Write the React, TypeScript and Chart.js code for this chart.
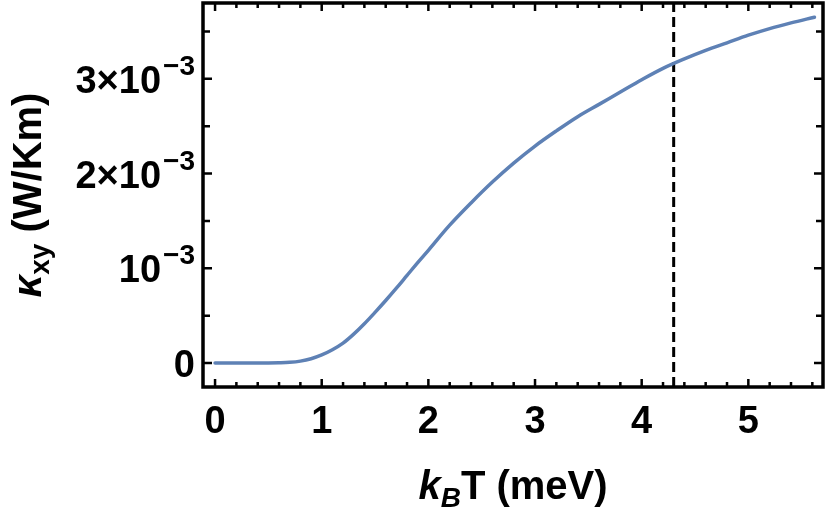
import React, { useEffect, useRef } from "react";
import { Chart, registerables } from "chart.js";

Chart.register(...registerables);

// k_B T in meV
const temperatures = [
  0, 0.2, 0.4, 0.5, 0.6, 0.7, 0.8, 0.9, 1.0, 1.1, 1.2, 1.3, 1.4, 1.5, 1.6, 1.7,
  1.8, 1.9, 2.0, 2.2, 2.4, 2.6, 2.8, 3.0, 3.2, 3.4, 3.6, 3.8, 4.0, 4.2, 4.4,
  4.6, 4.8, 5.0, 5.2, 5.4, 5.62,
];
// kappa_xy in W/Km
const kappaXY = [
  0, 0, 0, 0, 0.002e-3, 0.007e-3, 0.02e-3, 0.045e-3, 0.085e-3, 0.14e-3,
  0.21e-3, 0.305e-3, 0.415e-3, 0.535e-3, 0.66e-3, 0.79e-3, 0.925e-3, 1.06e-3,
  1.19e-3, 1.455e-3, 1.69e-3, 1.91e-3, 2.11e-3, 2.29e-3, 2.45e-3, 2.6e-3,
  2.73e-3, 2.86e-3, 2.99e-3, 3.11e-3, 3.21e-3, 3.3e-3, 3.38e-3, 3.46e-3,
  3.53e-3, 3.59e-3, 3.65e-3,
];
const markerT = 4.3;

const xMin = -0.113;
const xMax = 5.7;
const yMin = -0.253e-3;
const yMax = 3.8e-3;

const xTickValues = [0, 1, 2, 3, 4, 5];
const xTickLabels = ["0", "1", "2", "3", "4", "5"];
const xMinorStep = 0.2;
const yTickValues = [0, 1e-3, 2e-3, 3e-3];
const yTickBase = ["0", "10", "2×10", "3×10"];
const yTickSup = ["", "−3", "−3", "−3"];
const yMinorStep = 0.5e-3;

const FONT = "'Liberation Sans', Arial, Helvetica, sans-serif";

const framePlugin = {
  id: "mmaFrame",
  afterDraw(chart: any) {
    const ctx: CanvasRenderingContext2D = chart.ctx;
    const { left, right, top, bottom } = chart.chartArea;
    const xs = chart.scales.x;
    const ys = chart.scales.y;
    ctx.save();
    ctx.strokeStyle = "#000";
    ctx.fillStyle = "#000";

    // ticks
    ctx.lineWidth = 2.5;
    const nX = Math.round((xMax - 0) / xMinorStep);
    for (let i = 0; i <= nX; i++) {
      const v = i * xMinorStep;
      if (v > xMax) break;
      const isMajor = Math.abs(v - Math.round(v)) < 1e-6;
      const len = isMajor ? 8 : 5;
      const px = xs.getPixelForValue(v);
      ctx.beginPath();
      ctx.moveTo(px, bottom);
      ctx.lineTo(px, bottom - len);
      ctx.moveTo(px, top);
      ctx.lineTo(px, top + len);
      ctx.stroke();
    }
    const nY = Math.round(yMax / yMinorStep);
    for (let i = 0; i <= nY; i++) {
      const v = i * yMinorStep;
      if (v > yMax) break;
      const isMajor = i % 2 === 0;
      const len = isMajor ? 9 : 7;
      const py = ys.getPixelForValue(v);
      ctx.beginPath();
      ctx.moveTo(left, py);
      ctx.lineTo(left + len, py);
      ctx.moveTo(right, py);
      ctx.lineTo(right - len, py);
      ctx.stroke();
    }

    // frame
    ctx.lineWidth = 3.5;
    ctx.strokeRect(left, top, right - left, bottom - top);

    // x tick labels
    ctx.font = `bold 38px ${FONT}`;
    ctx.textAlign = "center";
    ctx.textBaseline = "alphabetic";
    xTickValues.forEach((v, i) => {
      ctx.fillText(xTickLabels[i], xs.getPixelForValue(v), 433);
    });

    // y tick labels
    ctx.textAlign = "left";
    const xEnd = 195;
    yTickValues.forEach((v, i) => {
      const py = ys.getPixelForValue(v);
      ctx.font = `bold 28px ${FONT}`;
      const ws = yTickSup[i] ? ctx.measureText(yTickSup[i]).width + 2 : 0;
      ctx.font = `bold 38px ${FONT}`;
      const wb = ctx.measureText(yTickBase[i]).width;
      ctx.fillText(yTickBase[i], xEnd - ws - wb, py + 14);
      if (yTickSup[i]) {
        ctx.font = `bold 28px ${FONT}`;
        ctx.fillText(yTickSup[i], xEnd - ws + 2, py - 4);
      }
    });

    // x title: k_B T (meV)
    {
      const parts = [
        { t: "k", f: `italic bold 40px ${FONT}`, dy: 0 },
        { t: "B", f: `italic bold 28px ${FONT}`, dy: 8 },
        { t: "T (meV)", f: `bold 40px ${FONT}`, dy: 0 },
      ];
      let total = 0;
      const widths = parts.map((p) => {
        ctx.font = p.f;
        const w = ctx.measureText(p.t).width;
        total += w;
        return w;
      });
      let x = (left + right) / 2 - total / 2;
      const base = 499;
      parts.forEach((p, i) => {
        ctx.font = p.f;
        ctx.fillText(p.t, x, base + p.dy);
        x += widths[i];
      });
    }

    // y title: kappa_xy (W/Km)
    {
      const parts = [
        { t: "κ", f: `italic bold 40px ${FONT}`, dy: 0 },
        { t: "xy", f: `bold 28px ${FONT}`, dy: 8 },
        { t: " (W/Km)", f: `bold 40px ${FONT}`, dy: 0 },
      ];
      let total = 0;
      const widths = parts.map((p) => {
        ctx.font = p.f;
        const w = ctx.measureText(p.t).width;
        total += w;
        return w;
      });
      ctx.translate(41, (top + bottom) / 2);
      ctx.rotate(-Math.PI / 2);
      let x = -total / 2;
      parts.forEach((p, i) => {
        ctx.font = p.f;
        ctx.fillText(p.t, x, p.dy);
        x += widths[i];
      });
    }
    ctx.restore();
  },
};

export default function App() {
  const canvasRef = useRef<HTMLCanvasElement | null>(null);

  useEffect(() => {
    const canvas = canvasRef.current;
    if (!canvas) return;
    const chart = new Chart(canvas, {
      type: "line",
      data: {
        datasets: [
          {
            data: temperatures.map((t, i) => ({ x: t, y: kappaXY[i] })),
            borderColor: "#5E81B5",
            borderWidth: 3.5,
            pointRadius: 0,
            tension: 0.35,
            borderCapStyle: "round",
            borderJoinStyle: "round",
            fill: false,
          },
          {
            data: [
              { x: markerT, y: yMin },
              { x: markerT, y: yMax },
            ],
            borderColor: "#000",
            borderWidth: 3,
            borderDash: [10, 5],
            pointRadius: 0,
            fill: false,
          },
        ],
      },
      options: {
        responsive: false,
        animation: false,
        devicePixelRatio: 1,
        layout: { padding: { top: 3, right: 7, left: 0, bottom: 0 } },
        plugins: {
          legend: { display: false },
          tooltip: { enabled: false },
        },
        scales: {
          x: {
            type: "linear",
            min: xMin,
            max: xMax,
            grid: { display: false },
            border: { display: false },
            ticks: { display: false, stepSize: 1, includeBounds: false },
            afterFit: (s: any) => {
              s.height = 128;
            },
          },
          y: {
            type: "linear",
            min: yMin,
            max: yMax,
            grid: { display: false },
            border: { display: false },
            ticks: { display: false, stepSize: 1e-3, includeBounds: false },
            afterFit: (s: any) => {
              s.width = 203;
            },
          },
        },
      },
      plugins: [framePlugin],
    } as any);
    return () => chart.destroy();
  }, []);

  return (
    <div
      style={{
        position: "fixed",
        left: 0,
        top: 0,
        width: 830,
        height: 515,
        background: "#fff",
      }}
    >
      <canvas
        ref={canvasRef}
        width={830}
        height={515}
        style={{ display: "block", width: 830, height: 515 }}
      />
    </div>
  );
}
